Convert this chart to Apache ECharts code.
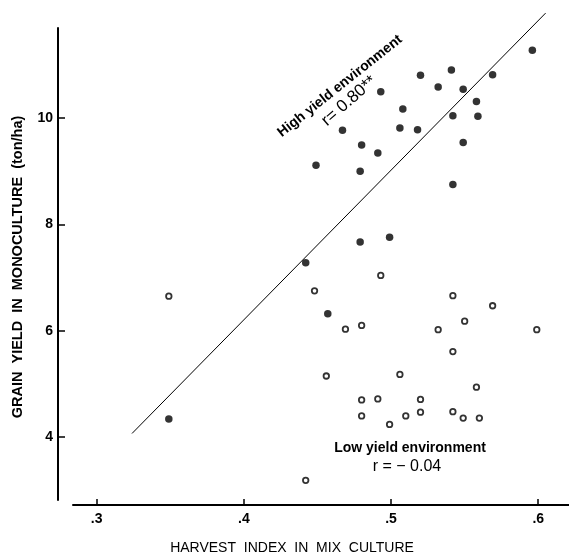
<!DOCTYPE html>
<html>
<head>
<meta charset="utf-8">
<script src="https://cdn.jsdelivr.net/npm/echarts@6/dist/echarts.min.js"></script>
<style>
  html, body { margin: 0; padding: 0; background: #fff; }
  #chart { width: 569px; height: 556px; }
</style>
</head>
<body>
<div id="chart"></div>
<script>
// high yield environment (filled dots): [harvest index, grain yield]
const highYield = [
  [0.596, 11.27], [0.569, 10.81], [0.541, 10.90], [0.520, 10.80], [0.532, 10.58],
  [0.549, 10.54], [0.493, 10.49], [0.558, 10.31], [0.508, 10.17], [0.542, 10.04],
  [0.559, 10.03], [0.467, 9.77], [0.506, 9.81], [0.518, 9.78], [0.480, 9.49],
  [0.491, 9.34], [0.549, 9.54], [0.449, 9.11], [0.479, 9.00], [0.542, 8.75],
  [0.479, 7.67], [0.499, 7.76], [0.442, 7.28], [0.457, 6.32], [0.349, 4.34]
];
// low yield environment (open circles)
const lowYield = [
  [0.349, 6.65], [0.493, 7.04], [0.448, 6.75], [0.542, 6.66], [0.569, 6.47],
  [0.469, 6.03], [0.480, 6.10], [0.532, 6.02], [0.550, 6.18], [0.599, 6.02],
  [0.542, 5.61], [0.456, 5.15], [0.506, 5.18], [0.558, 4.94], [0.480, 4.70],
  [0.491, 4.72], [0.520, 4.71], [0.480, 4.40], [0.499, 4.24], [0.510, 4.40],
  [0.520, 4.47], [0.542, 4.48], [0.549, 4.36], [0.560, 4.36], [0.442, 3.19]
];
// fitted line for the high yield set (end points)
const fitLine = [[0.324, 4.07], [0.605, 11.97]];
const xTicks = [0.3, 0.4, 0.5, 0.6];
const yTicks = [4, 6, 8, 10];

const chart = echarts.init(document.getElementById('chart'));
const font = "'Liberation Sans', Arial, sans-serif";

const option = {
  animation: false,
  backgroundColor: '#fff',
  grid: [
    { left: 58, right: 0, top: 28, bottom: 56 },   // plot area + y axis
    { left: 73, right: 0, top: 28, bottom: 51 }    // separate x axis line
  ],
  xAxis: [
    {
      type: 'value', gridIndex: 0, min: 0.2737, max: 0.6209,
      axisLine: { show: false }, axisTick: { show: false },
      axisLabel: { show: false }, splitLine: { show: false }
    },
    {
      type: 'value', gridIndex: 1, min: 0.2839, max: 0.6209,
      axisLine: { onZero: false, lineStyle: { color: '#000', width: 2 } },
      axisTick: { inside: true, length: 6, customValues: xTicks, lineStyle: { color: '#000', width: 1.5 } },
      axisLabel: {
        customValues: xTicks, margin: 7, color: '#000',
        fontSize: 14, fontWeight: 'bold', fontFamily: font,
        formatter: v => '.' + Math.round(v * 10)
      },
      splitLine: { show: false }
    }
  ],
  yAxis: [
    {
      type: 'value', gridIndex: 0, min: 2.82, max: 11.69,
      axisLine: { show: true, onZero: false, lineStyle: { color: '#000', width: 2 } },
      axisTick: { show: true, inside: true, length: 7, customValues: yTicks, lineStyle: { color: '#000', width: 1.5 } },
      axisLabel: {
        customValues: yTicks, margin: 5, color: '#000',
        fontSize: 14, fontWeight: 'bold', fontFamily: font
      },
      splitLine: { show: false }
    },
    {
      type: 'value', gridIndex: 1, min: 2.82, max: 11.69, show: false
    }
  ],
  graphic: [
    {
      type: 'text', x: 18, y: 267, rotation: Math.PI / 2,
      style: {
        text: 'GRAIN  YIELD  IN  MONOCULTURE  (ton/ha)', fill: '#000',
        font: 'bold 14.5px ' + font, textAlign: 'center', textVerticalAlign: 'middle'
      }
    },
    {
      type: 'text', x: 292, y: 548,
      style: {
        text: 'HARVEST  INDEX  IN  MIX  CULTURE', fill: '#000',
        font: '14px ' + font, textAlign: 'center', textVerticalAlign: 'middle'
      }
    },
    {
      type: 'text', x: 340, y: 86, rotation: 38.5 * Math.PI / 180,
      style: {
        text: 'High yield environment', fill: '#000',
        font: 'bold 14px ' + font, textAlign: 'center', textVerticalAlign: 'middle'
      }
    },
    {
      type: 'text', x: 349, y: 101, rotation: 41 * Math.PI / 180,
      style: {
        text: 'r= 0.80**', fill: '#000',
        font: '17px ' + font, textAlign: 'center', textVerticalAlign: 'middle'
      }
    },
    {
      type: 'text', x: 410, y: 448,
      style: {
        text: 'Low yield environment', fill: '#000',
        font: 'bold 14px ' + font, textAlign: 'center', textVerticalAlign: 'middle'
      }
    },
    {
      type: 'text', x: 407, y: 467,
      style: {
        text: 'r = − 0.04', fill: '#000',
        font: '16px ' + font, textAlign: 'center', textVerticalAlign: 'middle'
      }
    }
  ],
  series: [
    {
      name: 'fit', type: 'line', xAxisIndex: 0, yAxisIndex: 0,
      data: fitLine, symbol: 'none', clip: false,
      lineStyle: { color: '#000', width: 1 }
    },
    {
      name: 'High yield', type: 'scatter', xAxisIndex: 0, yAxisIndex: 0,
      data: highYield, symbol: 'circle', symbolSize: 7.5,
      itemStyle: { color: '#000' }
    },
    {
      name: 'Low yield', type: 'scatter', xAxisIndex: 0, yAxisIndex: 0,
      data: lowYield, symbol: 'circle', symbolSize: 5.5,
      itemStyle: { color: '#fff', borderColor: '#000', borderWidth: 1.8 }
    }
  ]
};
chart.setOption(option);
</script>
</body>
</html>
